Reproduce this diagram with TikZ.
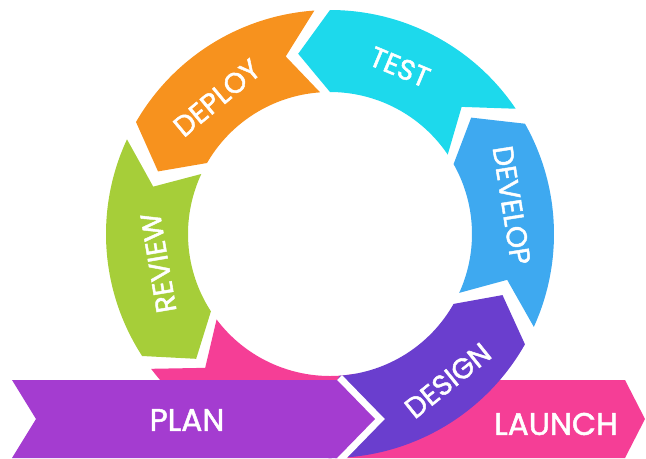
\documentclass[tikz,border=0pt]{standalone}
\usepackage{fontspec}
\setmainfont{Poppins}
\newfontfamily\labelfont{Poppins}[FakeBold=1.6]
\usepackage{tikz}
\definecolor{testcol}{RGB}{29,217,236}
\definecolor{deploycol}{RGB}{247,146,30}
\definecolor{reviewcol}{RGB}{166,206,57}
\definecolor{developcol}{RGB}{62,169,240}
\definecolor{designcol}{RGB}{106,62,206}
\definecolor{plancol}{RGB}{164,60,208}
\definecolor{launchcol}{RGB}{245,62,150}
\newcommand{\ringout}{2.24}
\newcommand{\ringin}{1.42}
\newcommand{\ringmid}{1.83}
% one chevron piece of the ring: colour, first angle, last angle
\newcommand{\ringseg}[3]{%
  \fill[#1] (#2:\ringout) arc[start angle=#2, end angle=#3, radius=\ringout]
    -- ({#3+10}:\ringmid) -- (#3:\ringin)
    arc[start angle=#3, end angle=#2, radius=\ringin]
    -- ({#2+10}:\ringmid) -- cycle;}
\tikzset{%
    seglabel/.style={text=white, font=\labelfont\fontsize{8.1}{9}\selectfont, inner sep=0pt},
    bandlabel/.style={text=white, font=\labelfont\fontsize{8.9}{10}\selectfont, inner sep=0pt}
}

\begin{document}
\begin{tikzpicture}
	\useasboundingbox (0,0) rectangle (6.46,4.58);
	\fill[launchcol] (3.35,0) -- (3.50,0.78) -- (6.25,0.78) -- (6.45,0.39) -- (6.25,0) -- cycle;
	\begin{scope}[shift={(3.30,2.24)}]
		\fill[launchcol] (217:\ringout) arc[start angle=217, end angle=280, radius=\ringout]
			-- (280:\ringin) arc[start angle=280, end angle=217, radius=\ringin]
			-- (227:\ringmid) -- cycle;
		\ringseg{testcol}{34}{90}
		\ringseg{deploycol}{94}{150}
		\ringseg{reviewcol}{155}{213}
		\ringseg{developcol}{-24.5}{29.5}
		\fill[designcol] (-100:\ringout) arc[start angle=-100, end angle=-29.5, radius=\ringout]
			-- (-19.5:\ringmid) -- (-29.5:\ringin)
			arc[start angle=-29.5, end angle=-86, radius=\ringin] -- cycle;
		\node[seglabel, rotate=-22.7] (test) at (67.3:1.81) {TEST};
		\node[seglabel, rotate=39.7] (deploy) at (129.7:1.77) {DEPLOY};
		\node[seglabel, rotate=99.6] (review) at (189.6:1.74) {REVIEW};
		\node[seglabel, rotate=-81] (develop) at (9:1.84) {DEVELOP};
		\node[seglabel, rotate=38.8] (design) at (-51.2:1.88) {DESIGN};
	\end{scope}
	\draw[white, line width=1.4mm, line join=miter] (3.37,0.78) -- (3.75,0.39) -- (3.37,0);
	\fill[plancol] (0.12,0.78) -- (3.37,0.78) -- (3.75,0.39) -- (3.37,0) -- (0.12,0) -- (0.36,0.39) -- cycle;
	\node[bandlabel] (plan) at (1.87,0.38) {PLAN};
	\node[bandlabel] (launch) at (5.56,0.34) {LAUNCH};
\end{tikzpicture}
\end{document}
